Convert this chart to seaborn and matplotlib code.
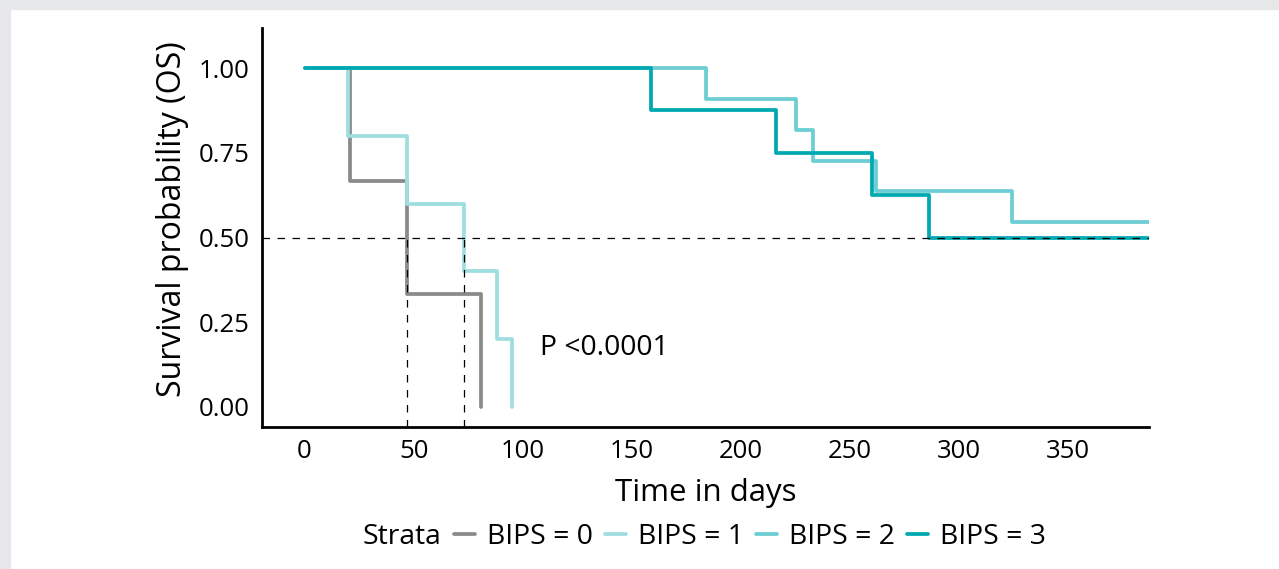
import matplotlib
matplotlib.use('Agg')
import matplotlib.pyplot as plt
from matplotlib.lines import Line2D
import seaborn as sns
import pandas as pd


# Kaplan-Meier step points per stratum (days, survival)
days_bips0 = [0, 21, 47, 81]
surv_bips0 = [1.0, 0.667, 0.333, 0.0]

days_bips1 = [0, 20, 47, 73, 88, 95]
surv_bips1 = [1.0, 0.8, 0.6, 0.4, 0.2, 0.0]

days_bips2 = [0, 184, 225, 233, 262, 324, 390]
surv_bips2 = [1.0, 0.909, 0.818, 0.727, 0.636, 0.545, 0.545]

days_bips3 = [0, 159, 216, 260, 286, 390]
surv_bips3 = [1.0, 0.875, 0.75, 0.625, 0.5, 0.5]

strata = ['BIPS = 0', 'BIPS = 1', 'BIPS = 2', 'BIPS = 3']
colors = ['#8a8a8a', '#9edee1', '#6ccdd2', '#00a9b1']
medians = [47, 73]
x_ticks = [0, 50, 100, 150, 200, 250, 300, 350]
y_ticks = [0.0, 0.25, 0.5, 0.75, 1.0]

frames = []
for name, d, s in zip(strata,
                      [days_bips0, days_bips1, days_bips2, days_bips3],
                      [surv_bips0, surv_bips1, surv_bips2, surv_bips3]):
    frames.append(pd.DataFrame({'time': d, 'surv': s, 'strata': name}))
df = pd.concat(frames, ignore_index=True)

sns.set_style('white')
plt.rcParams['font.family'] = ['Open Sans', 'DejaVu Sans']
plt.rcParams['text.color'] = 'black'
plt.rcParams['axes.labelcolor'] = 'black'
plt.rcParams['xtick.color'] = 'black'
plt.rcParams['ytick.color'] = 'black'

fig = plt.figure(figsize=(12.79, 5.69), dpi=100, facecolor='white')
# light grey frame on the left and top
fig.patches.append(plt.Rectangle((0, 0), 10 / 1279, 1, transform=fig.transFigure,
                                 color='#e6e7e9', zorder=-1))
fig.patches.append(plt.Rectangle((0, 1 - 9 / 569), 1, 9 / 569, transform=fig.transFigure,
                                 color='#e6e7e9', zorder=-1))

ax = fig.add_axes([262 / 1279, 1 - 427 / 569, (1149 - 262) / 1279, (427 - 28) / 569])

sns.lineplot(data=df, x='time', y='surv', hue='strata', hue_order=strata,
             palette=colors, estimator=None, sort=False, drawstyle='steps-post',
             linewidth=2.7, legend=False, ax=ax)

# median survival lines
ax.axhline(0.5, color='black', linewidth=0.9, dashes=(6, 6), zorder=5)
for m in medians:
    ax.plot([m, m], [-0.06, 0.5], color='black', linewidth=0.9, dashes=(6, 6), zorder=5)

ax.text(108, 0.175, 'P <0.0001', fontsize=20.3, va='center', ha='left')

ax.set_xlim(-19.5, 387)
ax.set_ylim(-0.059, 1.118)
ax.set_xticks(x_ticks)
ax.set_yticks(y_ticks)
ax.set_yticklabels(['%.2f' % v for v in y_ticks])
ax.tick_params(axis='both', length=0, labelsize=18.5, pad=9)
ax.set_xlabel('Time in days', fontsize=22.5, labelpad=10)
ax.set_ylabel('Survival probability (OS)', fontsize=23, labelpad=7)
ax.yaxis.label.set_y(0.52)

sns.despine(ax=ax)
for side in ['left', 'bottom']:
    ax.spines[side].set_linewidth(2)
    ax.spines[side].set_color('black')

handles = [Line2D([], [], color='none')]
handles += [Line2D([], [], color=c, linewidth=2.7) for c in colors]
labels = ['Strata'] + strata
leg = fig.legend(handles, labels, loc='center', bbox_to_anchor=(688 / 1279, 1 - 537 / 569),
                 ncol=5, frameon=False, fontsize=20.3, handlelength=0.75,
                 handletextpad=0.4, columnspacing=0.45)

fig.savefig('out.png', dpi=100)
